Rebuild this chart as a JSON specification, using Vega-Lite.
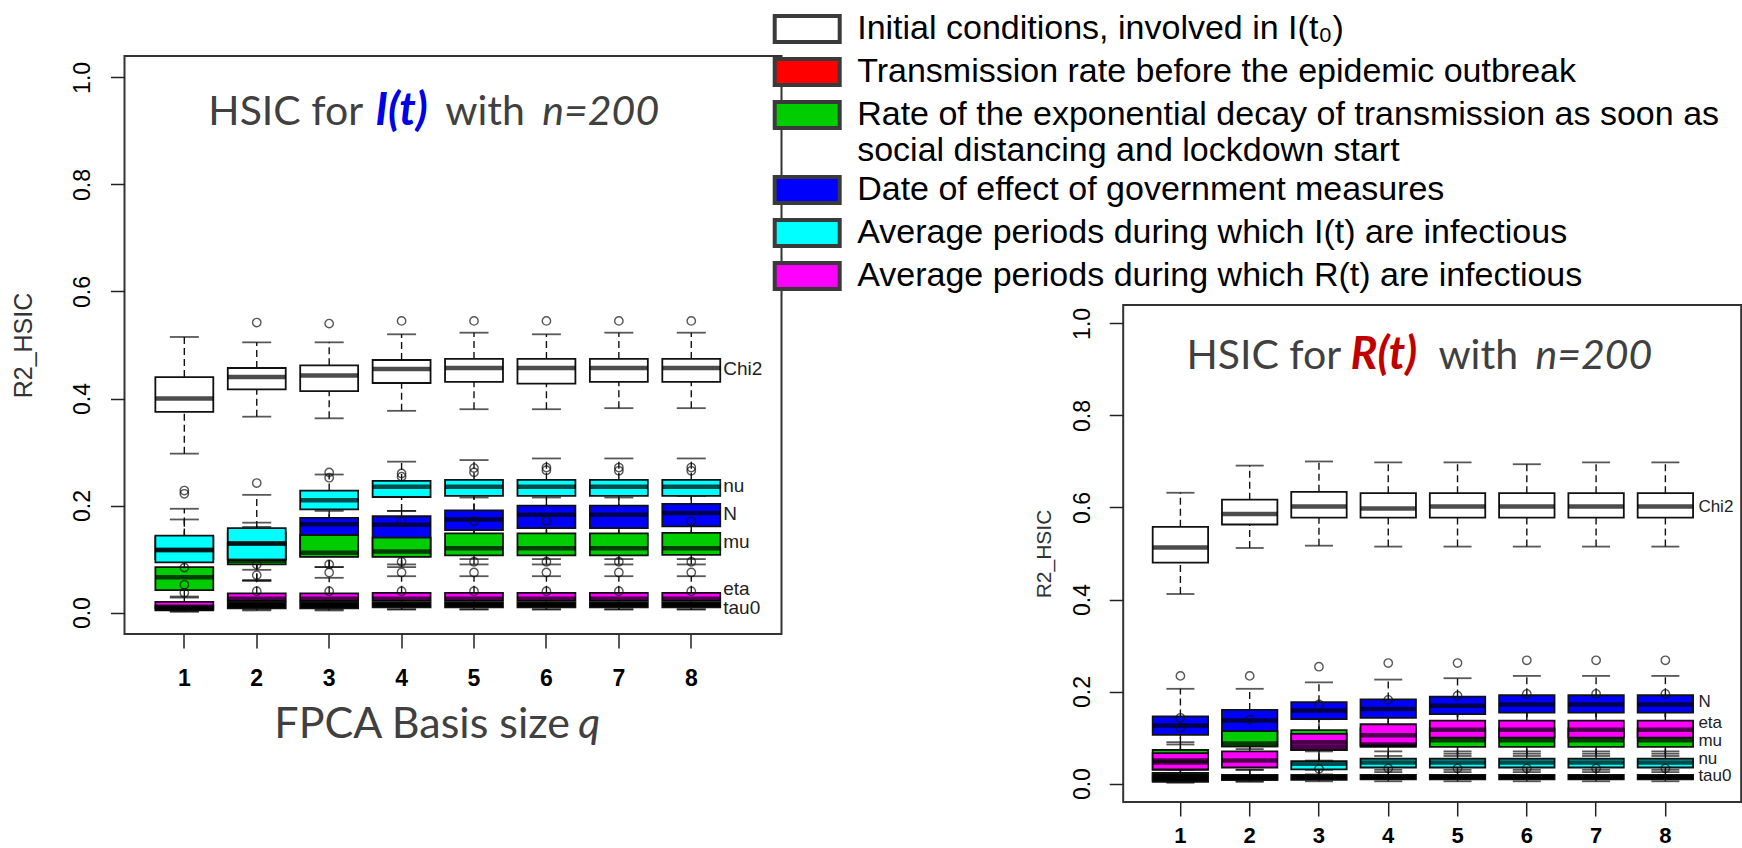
{
  "$schema": "https://vega.github.io/schema/vega-lite/v6.json",
  "background": "white",
  "padding": {"left": 9.5, "top": 7, "right": 0, "bottom": 0},
  "config": {
    "view": {"stroke": "#333333", "strokeWidth": 2},
    "axis": {"grid": false, "domain": false, "tickColor": "#222222", "tickWidth": 1.5, "labelColor": "#000000", "titleColor": "#333333", "labelFont": "Liberation Sans", "titleFont": "Liberation Sans", "titleFontWeight": "normal"}
  },
  "datasets": {
    "boxes": [
      {"p":"I","q":"1","param":"Chi2","lo":0.297,"q1":0.375,"med":0.400,"q3":0.440,"hi":0.515},
      {"p":"I","q":"1","param":"N","lo":0.072,"q1":0.100,"med":0.117,"q3":0.140,"hi":0.174},
      {"p":"I","q":"1","param":"mu","lo":0.028,"q1":0.042,"med":0.066,"q3":0.085,"hi":0.100},
      {"p":"I","q":"1","param":"nu","lo":0.070,"q1":0.094,"med":0.117,"q3":0.144,"hi":0.194},
      {"p":"I","q":"1","param":"eta","lo":0.002,"q1":0.008,"med":0.011,"q3":0.020,"hi":0.030},
      {"p":"I","q":"1","param":"tau0","lo":0.002,"q1":0.004,"med":0.008,"q3":0.012,"hi":0.020},
      {"p":"I","q":"2","param":"Chi2","lo":0.366,"q1":0.417,"med":0.440,"q3":0.457,"hi":0.505},
      {"p":"I","q":"2","param":"N","lo":0.060,"q1":0.100,"med":0.129,"q3":0.150,"hi":0.168},
      {"p":"I","q":"2","param":"mu","lo":0.060,"q1":0.090,"med":0.097,"q3":0.130,"hi":0.160},
      {"p":"I","q":"2","param":"nu","lo":0.080,"q1":0.098,"med":0.129,"q3":0.158,"hi":0.220},
      {"p":"I","q":"2","param":"eta","lo":0.006,"q1":0.022,"med":0.026,"q3":0.036,"hi":0.060},
      {"p":"I","q":"2","param":"tau0","lo":0.004,"q1":0.008,"med":0.013,"q3":0.020,"hi":0.030},
      {"p":"I","q":"3","param":"Chi2","lo":0.363,"q1":0.414,"med":0.443,"q3":0.462,"hi":0.505},
      {"p":"I","q":"3","param":"N","lo":0.085,"q1":0.105,"med":0.165,"q3":0.177,"hi":0.190},
      {"p":"I","q":"3","param":"mu","lo":0.085,"q1":0.104,"med":0.112,"q3":0.145,"hi":0.170},
      {"p":"I","q":"3","param":"nu","lo":0.150,"q1":0.193,"med":0.210,"q3":0.228,"hi":0.258},
      {"p":"I","q":"3","param":"eta","lo":0.006,"q1":0.022,"med":0.026,"q3":0.036,"hi":0.065},
      {"p":"I","q":"3","param":"tau0","lo":0.004,"q1":0.008,"med":0.013,"q3":0.020,"hi":0.030},
      {"p":"I","q":"4","param":"Chi2","lo":0.377,"q1":0.429,"med":0.455,"q3":0.472,"hi":0.520},
      {"p":"I","q":"4","param":"N","lo":0.090,"q1":0.105,"med":0.164,"q3":0.180,"hi":0.190},
      {"p":"I","q":"4","param":"mu","lo":0.085,"q1":0.104,"med":0.114,"q3":0.140,"hi":0.165},
      {"p":"I","q":"4","param":"nu","lo":0.190,"q1":0.216,"med":0.235,"q3":0.246,"hi":0.282},
      {"p":"I","q":"4","param":"eta","lo":0.006,"q1":0.022,"med":0.026,"q3":0.037,"hi":0.068},
      {"p":"I","q":"4","param":"tau0","lo":0.006,"q1":0.010,"med":0.015,"q3":0.019,"hi":0.028},
      {"p":"I","q":"5","param":"Chi2","lo":0.380,"q1":0.431,"med":0.457,"q3":0.474,"hi":0.523},
      {"p":"I","q":"5","param":"N","lo":0.100,"q1":0.154,"med":0.174,"q3":0.191,"hi":0.215},
      {"p":"I","q":"5","param":"mu","lo":0.090,"q1":0.107,"med":0.120,"q3":0.148,"hi":0.165},
      {"p":"I","q":"5","param":"nu","lo":0.190,"q1":0.218,"med":0.235,"q3":0.248,"hi":0.285},
      {"p":"I","q":"5","param":"eta","lo":0.006,"q1":0.022,"med":0.026,"q3":0.037,"hi":0.068},
      {"p":"I","q":"5","param":"tau0","lo":0.006,"q1":0.010,"med":0.015,"q3":0.019,"hi":0.028},
      {"p":"I","q":"6","param":"Chi2","lo":0.380,"q1":0.428,"med":0.457,"q3":0.474,"hi":0.520},
      {"p":"I","q":"6","param":"N","lo":0.100,"q1":0.158,"med":0.183,"q3":0.200,"hi":0.215},
      {"p":"I","q":"6","param":"mu","lo":0.090,"q1":0.107,"med":0.120,"q3":0.148,"hi":0.165},
      {"p":"I","q":"6","param":"nu","lo":0.190,"q1":0.218,"med":0.235,"q3":0.248,"hi":0.288},
      {"p":"I","q":"6","param":"eta","lo":0.006,"q1":0.022,"med":0.026,"q3":0.037,"hi":0.068},
      {"p":"I","q":"6","param":"tau0","lo":0.006,"q1":0.010,"med":0.015,"q3":0.019,"hi":0.028},
      {"p":"I","q":"7","param":"Chi2","lo":0.382,"q1":0.431,"med":0.457,"q3":0.474,"hi":0.523},
      {"p":"I","q":"7","param":"N","lo":0.100,"q1":0.158,"med":0.183,"q3":0.200,"hi":0.215},
      {"p":"I","q":"7","param":"mu","lo":0.090,"q1":0.107,"med":0.120,"q3":0.148,"hi":0.172},
      {"p":"I","q":"7","param":"nu","lo":0.190,"q1":0.218,"med":0.235,"q3":0.248,"hi":0.288},
      {"p":"I","q":"7","param":"eta","lo":0.006,"q1":0.022,"med":0.026,"q3":0.037,"hi":0.068},
      {"p":"I","q":"7","param":"tau0","lo":0.006,"q1":0.010,"med":0.015,"q3":0.019,"hi":0.028},
      {"p":"I","q":"8","param":"Chi2","lo":0.382,"q1":0.431,"med":0.457,"q3":0.474,"hi":0.523},
      {"p":"I","q":"8","param":"N","lo":0.100,"q1":0.161,"med":0.186,"q3":0.203,"hi":0.218},
      {"p":"I","q":"8","param":"mu","lo":0.090,"q1":0.108,"med":0.120,"q3":0.149,"hi":0.165},
      {"p":"I","q":"8","param":"nu","lo":0.190,"q1":0.218,"med":0.235,"q3":0.248,"hi":0.288},
      {"p":"I","q":"8","param":"eta","lo":0.006,"q1":0.022,"med":0.026,"q3":0.037,"hi":0.068},
      {"p":"I","q":"8","param":"tau0","lo":0.006,"q1":0.010,"med":0.015,"q3":0.019,"hi":0.028},

      {"p":"R","q":"1","param":"Chi2","lo":0.412,"q1":0.480,"med":0.513,"q3":0.558,"hi":0.632},
      {"p":"R","q":"1","param":"N","lo":0.085,"q1":0.106,"med":0.126,"q3":0.146,"hi":0.206},
      {"p":"R","q":"1","param":"mu","lo":0.010,"q1":0.030,"med":0.050,"q3":0.073,"hi":0.111},
      {"p":"R","q":"1","param":"nu","lo":0.003,"q1":0.006,"med":0.014,"q3":0.023,"hi":0.035},
      {"p":"R","q":"1","param":"eta","lo":0.010,"q1":0.031,"med":0.046,"q3":0.066,"hi":0.090},
      {"p":"R","q":"1","param":"tau0","lo":0.002,"q1":0.004,"med":0.010,"q3":0.022,"hi":0.030},
      {"p":"R","q":"2","param":"Chi2","lo":0.512,"q1":0.563,"med":0.586,"q3":0.617,"hi":0.691},
      {"p":"R","q":"2","param":"N","lo":0.075,"q1":0.081,"med":0.137,"q3":0.160,"hi":0.206},
      {"p":"R","q":"2","param":"mu","lo":0.050,"q1":0.081,"med":0.087,"q3":0.114,"hi":0.130},
      {"p":"R","q":"2","param":"nu","lo":0.004,"q1":0.008,"med":0.012,"q3":0.019,"hi":0.030},
      {"p":"R","q":"2","param":"eta","lo":0.015,"q1":0.035,"med":0.050,"q3":0.070,"hi":0.095},
      {"p":"R","q":"2","param":"tau0","lo":0.005,"q1":0.008,"med":0.013,"q3":0.019,"hi":0.030},
      {"p":"R","q":"3","param":"Chi2","lo":0.517,"q1":0.578,"med":0.602,"q3":0.634,"hi":0.700},
      {"p":"R","q":"3","param":"N","lo":0.110,"q1":0.140,"med":0.159,"q3":0.177,"hi":0.220},
      {"p":"R","q":"3","param":"mu","lo":0.050,"q1":0.073,"med":0.080,"q3":0.116,"hi":0.155},
      {"p":"R","q":"3","param":"nu","lo":0.020,"q1":0.031,"med":0.043,"q3":0.049,"hi":0.070},
      {"p":"R","q":"3","param":"eta","lo":0.040,"q1":0.073,"med":0.090,"q3":0.108,"hi":0.140},
      {"p":"R","q":"3","param":"tau0","lo":0.005,"q1":0.008,"med":0.013,"q3":0.019,"hi":0.030},
      {"p":"R","q":"4","param":"Chi2","lo":0.515,"q1":0.578,"med":0.598,"q3":0.631,"hi":0.698},
      {"p":"R","q":"4","param":"N","lo":0.110,"q1":0.143,"med":0.162,"q3":0.183,"hi":0.226},
      {"p":"R","q":"4","param":"mu","lo":0.060,"q1":0.080,"med":0.085,"q3":0.120,"hi":0.160},
      {"p":"R","q":"4","param":"nu","lo":0.025,"q1":0.035,"med":0.046,"q3":0.054,"hi":0.070},
      {"p":"R","q":"4","param":"eta","lo":0.050,"q1":0.083,"med":0.105,"q3":0.129,"hi":0.160},
      {"p":"R","q":"4","param":"tau0","lo":0.005,"q1":0.009,"med":0.014,"q3":0.019,"hi":0.030},
      {"p":"R","q":"5","param":"Chi2","lo":0.515,"q1":0.578,"med":0.602,"q3":0.631,"hi":0.698},
      {"p":"R","q":"5","param":"N","lo":0.120,"q1":0.151,"med":0.169,"q3":0.189,"hi":0.229},
      {"p":"R","q":"5","param":"mu","lo":0.065,"q1":0.080,"med":0.094,"q3":0.120,"hi":0.174},
      {"p":"R","q":"5","param":"nu","lo":0.025,"q1":0.035,"med":0.046,"q3":0.054,"hi":0.070},
      {"p":"R","q":"5","param":"eta","lo":0.060,"q1":0.100,"med":0.117,"q3":0.137,"hi":0.170},
      {"p":"R","q":"5","param":"tau0","lo":0.005,"q1":0.009,"med":0.014,"q3":0.019,"hi":0.030},
      {"p":"R","q":"6","param":"Chi2","lo":0.515,"q1":0.578,"med":0.602,"q3":0.631,"hi":0.694},
      {"p":"R","q":"6","param":"N","lo":0.120,"q1":0.154,"med":0.172,"q3":0.192,"hi":0.234},
      {"p":"R","q":"6","param":"mu","lo":0.065,"q1":0.080,"med":0.094,"q3":0.120,"hi":0.175},
      {"p":"R","q":"6","param":"nu","lo":0.025,"q1":0.035,"med":0.046,"q3":0.054,"hi":0.070},
      {"p":"R","q":"6","param":"eta","lo":0.060,"q1":0.100,"med":0.117,"q3":0.137,"hi":0.170},
      {"p":"R","q":"6","param":"tau0","lo":0.005,"q1":0.009,"med":0.014,"q3":0.019,"hi":0.030},
      {"p":"R","q":"7","param":"Chi2","lo":0.515,"q1":0.578,"med":0.602,"q3":0.631,"hi":0.698},
      {"p":"R","q":"7","param":"N","lo":0.120,"q1":0.154,"med":0.172,"q3":0.192,"hi":0.234},
      {"p":"R","q":"7","param":"mu","lo":0.065,"q1":0.080,"med":0.094,"q3":0.120,"hi":0.175},
      {"p":"R","q":"7","param":"nu","lo":0.025,"q1":0.035,"med":0.046,"q3":0.054,"hi":0.070},
      {"p":"R","q":"7","param":"eta","lo":0.060,"q1":0.100,"med":0.117,"q3":0.137,"hi":0.170},
      {"p":"R","q":"7","param":"tau0","lo":0.005,"q1":0.009,"med":0.014,"q3":0.019,"hi":0.030},
      {"p":"R","q":"8","param":"Chi2","lo":0.515,"q1":0.578,"med":0.602,"q3":0.631,"hi":0.698},
      {"p":"R","q":"8","param":"N","lo":0.120,"q1":0.154,"med":0.172,"q3":0.192,"hi":0.234},
      {"p":"R","q":"8","param":"mu","lo":0.065,"q1":0.080,"med":0.094,"q3":0.120,"hi":0.175},
      {"p":"R","q":"8","param":"nu","lo":0.025,"q1":0.035,"med":0.046,"q3":0.054,"hi":0.070},
      {"p":"R","q":"8","param":"eta","lo":0.060,"q1":0.100,"med":0.117,"q3":0.137,"hi":0.170},
      {"p":"R","q":"8","param":"tau0","lo":0.005,"q1":0.009,"med":0.014,"q3":0.019,"hi":0.030}
    ],
    "outliers": [
      {"p":"I","q":"2","v":0.542},{"p":"I","q":"3","v":0.540},{"p":"I","q":"4","v":0.545},{"p":"I","q":"5","v":0.545},
      {"p":"I","q":"6","v":0.545},{"p":"I","q":"7","v":0.545},{"p":"I","q":"8","v":0.545},
      {"p":"I","q":"1","v":0.222},{"p":"I","q":"1","v":0.228},{"p":"I","q":"2","v":0.242},
      {"p":"I","q":"3","v":0.262},{"p":"I","q":"3","v":0.252},
      {"p":"I","q":"4","v":0.260},{"p":"I","q":"4","v":0.254},{"p":"I","q":"5","v":0.270},{"p":"I","q":"5","v":0.262},
      {"p":"I","q":"6","v":0.271},{"p":"I","q":"6","v":0.266},{"p":"I","q":"7","v":0.271},{"p":"I","q":"7","v":0.265},
      {"p":"I","q":"8","v":0.271},{"p":"I","q":"8","v":0.265},
      {"p":"I","q":"4","v":0.171},{"p":"I","q":"5","v":0.171},{"p":"I","q":"6","v":0.171},{"p":"I","q":"8","v":0.171},
      {"p":"I","q":"1","v":0.037},{"p":"I","q":"1","v":0.052},{"p":"I","q":"1","v":0.084},
      {"p":"I","q":"2","v":0.070},{"p":"I","q":"2","v":0.090},{"p":"I","q":"2","v":0.040},
      {"p":"I","q":"3","v":0.075},{"p":"I","q":"3","v":0.090},{"p":"I","q":"3","v":0.040},
      {"p":"I","q":"4","v":0.075},{"p":"I","q":"4","v":0.095},{"p":"I","q":"4","v":0.040},
      {"p":"I","q":"5","v":0.075},{"p":"I","q":"5","v":0.095},{"p":"I","q":"5","v":0.040},
      {"p":"I","q":"6","v":0.075},{"p":"I","q":"6","v":0.095},{"p":"I","q":"6","v":0.040},
      {"p":"I","q":"7","v":0.075},{"p":"I","q":"7","v":0.095},{"p":"I","q":"7","v":0.040},
      {"p":"I","q":"8","v":0.075},{"p":"I","q":"8","v":0.095},{"p":"I","q":"8","v":0.040},
      {"p":"R","q":"1","v":0.234},{"p":"R","q":"2","v":0.234},{"p":"R","q":"3","v":0.254},{"p":"R","q":"4","v":0.262},
      {"p":"R","q":"5","v":0.262},{"p":"R","q":"6","v":0.268},{"p":"R","q":"7","v":0.268},{"p":"R","q":"8","v":0.268},
      {"p":"R","q":"1","v":0.121},{"p":"R","q":"1","v":0.143},{"p":"R","q":"2","v":0.139},{"p":"R","q":"3","v":0.172},
      {"p":"R","q":"4","v":0.182},{"p":"R","q":"5","v":0.191},{"p":"R","q":"6","v":0.195},{"p":"R","q":"7","v":0.195},{"p":"R","q":"8","v":0.195},
      {"p":"R","q":"3","v":0.032},{"p":"R","q":"4","v":0.033},{"p":"R","q":"5","v":0.033},{"p":"R","q":"6","v":0.033},
      {"p":"R","q":"7","v":0.033},{"p":"R","q":"8","v":0.033}
    ],
    "labels": [
      {"p":"I","param":"Chi2","y":0.455},{"p":"I","param":"nu","y":0.237},{"p":"I","param":"N","y":0.185},
      {"p":"I","param":"mu","y":0.131},{"p":"I","param":"eta","y":0.045},{"p":"I","param":"tau0","y":0.009},
      {"p":"R","param":"Chi2","y":0.600},{"p":"R","param":"N","y":0.178},{"p":"R","param":"eta","y":0.131},
      {"p":"R","param":"mu","y":0.093},{"p":"R","param":"nu","y":0.054},{"p":"R","param":"tau0","y":0.017}
    ],
    "titles": [
      {"p":"I","part":"a","t":"HSIC for"},{"p":"I","part":"b","t":"I(t)"},{"p":"I","part":"c","t":"with"},{"p":"I","part":"d","t":"n=200"},
      {"p":"I","part":"x1","t":"FPCA Basis size"},{"p":"I","part":"x2","t":"q"},
      {"p":"R","part":"a","t":"HSIC for"},{"p":"R","part":"b","t":"R(t)"},{"p":"R","part":"c","t":"with"},{"p":"R","part":"d","t":"n=200"}
    ]
  },
  "bounds": "flush",
  "spacing": 341.7,
  "resolve": {"scale": {"color": "independent", "x": "independent", "y": "independent"}, "legend": {"color": "independent"}},
  "hconcat": [
    {
      "width": 657,
      "height": 578,
      "encoding": {
        "x": {"field": "q", "type": "ordinal",
          "scale": {"domain": ["1","2","3","4","5","6","7","8"], "paddingInner": 0.2, "paddingOuter": 0.636, "align": 0.335},
          "axis": {"title": null, "labelAngle": 0, "labelFontWeight": "bold", "labelFontSize": 23, "labelPadding": 19, "tickSize": 14}}
      },
      "layer": [
        {"data": {"name": "boxes"}, "transform": [{"filter": "datum.p == 'I'"}],
         "mark": {"type": "rule", "strokeDash": [7, 4], "strokeWidth": 1.4, "color": "#111111"},
         "encoding": {"y": {"field": "lo", "type": "quantitative", "title": "R2_HSIC", "scale": {"domain": [-0.04, 1.04], "nice": false, "zero": false},
                            "axis": {"title": "R2_HSIC", "values": [0, 0.2, 0.4, 0.6, 0.8, 1.0], "format": ".1f", "labelAngle": 270, "labelAlign": "center", "labelBaseline": "middle",
                                     "labelFontSize": 23, "labelPadding": 28, "tickSize": 14, "titleFontSize": 25, "titlePadding": 35}},
                      "y2": {"field": "q1"}}},
        {"data": {"name": "boxes"}, "transform": [{"filter": "datum.p == 'I'"}],
         "mark": {"type": "rule", "strokeDash": [7, 4], "strokeWidth": 1.4, "color": "#111111"},
         "encoding": {"y": {"field": "q3", "type": "quantitative", "title": "R2_HSIC", "scale": {"domain": [-0.04, 1.04], "nice": false, "zero": false}}, "y2": {"field": "hi"}}},
        {"data": {"name": "boxes"}, "transform": [{"filter": "datum.p == 'I'"}],
         "mark": {"type": "tick", "size": 29, "thickness": 1.8, "color": "#111111"},
         "encoding": {"y": {"field": "lo", "type": "quantitative", "title": "R2_HSIC", "scale": {"domain": [-0.04, 1.04], "nice": false, "zero": false}}}},
        {"data": {"name": "boxes"}, "transform": [{"filter": "datum.p == 'I'"}],
         "mark": {"type": "tick", "size": 29, "thickness": 1.8, "color": "#111111"},
         "encoding": {"y": {"field": "hi", "type": "quantitative", "title": "R2_HSIC", "scale": {"domain": [-0.04, 1.04], "nice": false, "zero": false}}}},
        {"data": {"name": "boxes"}, "transform": [{"filter": "datum.p == 'I' && datum.param != 'tau0'"}],
         "mark": {"type": "bar", "stroke": "#111111", "strokeWidth": 1.8},
         "encoding": {"y": {"field": "q1", "type": "quantitative", "title": "R2_HSIC", "scale": {"domain": [-0.04, 1.04], "nice": false, "zero": false}},
                      "y2": {"field": "q3"},
                      "color": {"field": "param", "type": "nominal",
                                "scale": {"domain": ["Chi2", "tau0", "mu", "N", "nu", "eta"], "range": ["#ffffff", "#ff0000", "#00cd00", "#0000ff", "#00ffff", "#ff00ff"]},
                                "legend": null}}},
        {"data": {"name": "boxes"}, "transform": [{"filter": "datum.p == 'I' && datum.param == 'tau0'"}],
         "mark": {"type": "bar", "color": "#000000", "stroke": "#111111", "strokeWidth": 1.8},
         "encoding": {"y": {"field": "q1", "type": "quantitative", "title": "R2_HSIC", "scale": {"domain": [-0.04, 1.04], "nice": false, "zero": false}},
                      "y2": {"field": "q3"}}},
        {"data": {"name": "boxes"}, "transform": [{"filter": "datum.p == 'I'"}],
         "mark": {"type": "tick", "size": 58, "thickness": 4.5, "color": "#000000"},
         "encoding": {"y": {"field": "med", "type": "quantitative", "title": "R2_HSIC", "scale": {"domain": [-0.04, 1.04], "nice": false, "zero": false}}}},
        {"data": {"name": "outliers"}, "transform": [{"filter": "datum.p == 'I'"}],
         "mark": {"type": "point", "shape": "circle", "filled": false, "size": 70, "strokeWidth": 1.4, "color": "#111111"},
         "encoding": {"y": {"field": "v", "type": "quantitative", "title": "R2_HSIC", "scale": {"domain": [-0.04, 1.04], "nice": false, "zero": false}}}},
        {"data": {"name": "labels"}, "transform": [{"filter": "datum.p == 'I'"}],
         "mark": {"type": "text", "align": "left", "baseline": "middle", "dx": 32, "font": "Liberation Sans", "fontSize": 19, "color": "#222222"},
         "encoding": {"x": {"datum": "8"}, "y": {"field": "y", "type": "quantitative", "title": "R2_HSIC", "scale": {"domain": [-0.04, 1.04], "nice": false, "zero": false}},
                      "text": {"field": "param"}}},
        {"data": {"name": "titles"}, "transform": [{"filter": "datum.p == 'I' && datum.part == 'a'"}],
         "mark": {"type": "text", "align": "left", "baseline": "alphabetic", "dx": 24, "font": "Lato", "fontSize": 41, "color": "#404040"},
         "encoding": {"x": {"datum": "1"}, "y": {"datum": 0.9104, "type": "quantitative", "title": "R2_HSIC", "scale": {"domain": [-0.04, 1.04], "nice": false, "zero": false}}, "text": {"field": "t"}}},
        {"data": {"name": "titles"}, "transform": [{"filter": "datum.p == 'I' && datum.part == 'b'"}],
         "mark": {"type": "text", "align": "left", "baseline": "alphabetic", "dx": 191, "font": "Lato", "fontSize": 45, "fontWeight": "bold", "fontStyle": "italic", "color": "#0000e6"},
         "encoding": {"x": {"datum": "1"}, "y": {"datum": 0.9104, "type": "quantitative", "title": "R2_HSIC", "scale": {"domain": [-0.04, 1.04], "nice": false, "zero": false}}, "text": {"field": "t"}}},
        {"data": {"name": "titles"}, "transform": [{"filter": "datum.p == 'I' && datum.part == 'c'"}],
         "mark": {"type": "text", "align": "left", "baseline": "alphabetic", "dx": 261, "font": "Lato", "fontSize": 41, "color": "#404040"},
         "encoding": {"x": {"datum": "1"}, "y": {"datum": 0.9104, "type": "quantitative", "title": "R2_HSIC", "scale": {"domain": [-0.04, 1.04], "nice": false, "zero": false}}, "text": {"field": "t"}}},
        {"data": {"name": "titles"}, "transform": [{"filter": "datum.p == 'I' && datum.part == 'd'"}],
         "mark": {"type": "text", "align": "left", "baseline": "alphabetic", "dx": 358, "font": "Lato", "fontSize": 41, "fontStyle": "italic", "color": "#404040"},
         "encoding": {"x": {"datum": "1"}, "y": {"datum": 0.9104, "type": "quantitative", "title": "R2_HSIC", "scale": {"domain": [-0.04, 1.04], "nice": false, "zero": false}}, "text": {"field": "t"}}},
        {"data": {"name": "titles"}, "transform": [{"filter": "datum.p == 'I' && datum.part == 'x1'"}],
         "mark": {"type": "text", "align": "left", "baseline": "alphabetic", "dx": 90, "font": "Lato", "fontSize": 43, "color": "#404040"},
         "encoding": {"x": {"datum": "1"}, "y": {"datum": -0.234, "type": "quantitative", "title": "R2_HSIC", "scale": {"domain": [-0.04, 1.04], "nice": false, "zero": false}}, "text": {"field": "t"}}},
        {"data": {"name": "titles"}, "transform": [{"filter": "datum.p == 'I' && datum.part == 'x2'"}],
         "mark": {"type": "text", "align": "left", "baseline": "alphabetic", "dx": 394, "font": "Lato", "fontSize": 43, "fontStyle": "italic", "color": "#404040"},
         "encoding": {"x": {"datum": "1"}, "y": {"datum": -0.234, "type": "quantitative", "title": "R2_HSIC", "scale": {"domain": [-0.04, 1.04], "nice": false, "zero": false}}, "text": {"field": "t"}}}
      ]
    },
    {
      "bounds": "flush",
      "spacing": 0,
      "resolve": {"scale": {"color": "independent", "x": "independent", "y": "independent"}, "legend": {"color": "independent"}},
      "vconcat": [
        {"width": 618, "height": 249, "data": {"values": []}, "mark": "point", "view": {"stroke": null}},
        {
          "width": 618,
          "height": 497,
          "encoding": {
            "x": {"field": "q", "type": "ordinal",
              "scale": {"domain": ["1","2","3","4","5","6","7","8"], "paddingInner": 0.2, "paddingOuter": 0.56, "align": 0.38},
              "axis": {"title": null, "labelAngle": 0, "labelFontWeight": "bold", "labelFontSize": 22, "labelPadding": 9, "tickSize": 14}}
          },
          "layer": [
            {"data": {"name": "boxes"}, "transform": [{"filter": "datum.p == 'R'"}],
             "mark": {"type": "rule", "strokeDash": [7, 4], "strokeWidth": 1.4, "color": "#111111"},
             "encoding": {"y": {"field": "lo", "type": "quantitative", "title": "R2_HSIC", "scale": {"domain": [-0.04, 1.04], "nice": false, "zero": false},
                                "axis": {"title": "R2_HSIC", "values": [0, 0.2, 0.4, 0.6, 0.8, 1.0], "format": ".1f", "labelAngle": 270, "labelAlign": "center", "labelBaseline": "middle",
                                         "labelFontSize": 23, "labelPadding": 27, "tickSize": 14, "titleFontSize": 21, "titlePadding": 17}},
                          "y2": {"field": "q1"}}},
            {"data": {"name": "boxes"}, "transform": [{"filter": "datum.p == 'R'"}],
             "mark": {"type": "rule", "strokeDash": [7, 4], "strokeWidth": 1.4, "color": "#111111"},
             "encoding": {"y": {"field": "q3", "type": "quantitative", "title": "R2_HSIC", "scale": {"domain": [-0.04, 1.04], "nice": false, "zero": false}}, "y2": {"field": "hi"}}},
            {"data": {"name": "boxes"}, "transform": [{"filter": "datum.p == 'R'"}],
             "mark": {"type": "tick", "size": 28, "thickness": 1.8, "color": "#111111"},
             "encoding": {"y": {"field": "lo", "type": "quantitative", "title": "R2_HSIC", "scale": {"domain": [-0.04, 1.04], "nice": false, "zero": false}}}},
            {"data": {"name": "boxes"}, "transform": [{"filter": "datum.p == 'R'"}],
             "mark": {"type": "tick", "size": 28, "thickness": 1.8, "color": "#111111"},
             "encoding": {"y": {"field": "hi", "type": "quantitative", "title": "R2_HSIC", "scale": {"domain": [-0.04, 1.04], "nice": false, "zero": false}}}},
            {"data": {"name": "boxes"}, "transform": [{"filter": "datum.p == 'R' && datum.param != 'tau0'"}],
             "mark": {"type": "bar", "stroke": "#111111", "strokeWidth": 1.8},
             "encoding": {"y": {"field": "q1", "type": "quantitative", "title": "R2_HSIC", "scale": {"domain": [-0.04, 1.04], "nice": false, "zero": false}},
                          "y2": {"field": "q3"},
                          "color": {"field": "param", "type": "nominal",
                                    "scale": {"domain": ["Chi2", "tau0", "mu", "N", "nu", "eta"], "range": ["#ffffff", "#ff0000", "#00cd00", "#0000ff", "#00ffff", "#ff00ff"]},
                                    "legend": {"title": null, "orient": "none", "legendX": -337, "legendY": -297, "padding": 4, "fillColor": "#ffffff",
                                               "symbolType": "M-2.5,-1H2.5V1H-2.5Z", "symbolSize": 676, "symbolStrokeColor": "#3a3a3a", "symbolStrokeWidth": 4,
                                               "labelFont": "Liberation Sans", "labelFontSize": 34, "labelColor": "#000000", "labelOffset": 33, "labelLimit": 2000, "rowPadding": 1,
                                               "labelExpr": "datum.value == 'Chi2' ? 'Initial conditions, involved in I(t₀)' : datum.value == 'tau0' ? 'Transmission rate before the epidemic outbreak' : datum.value == 'mu' ? ['Rate of the exponential decay of transmission as soon as', 'social distancing and lockdown start'] : datum.value == 'N' ? 'Date of effect of government measures' : datum.value == 'nu' ? 'Average periods during which I(t) are infectious' : 'Average periods during which R(t) are infectious'"}}}},
            {"data": {"name": "boxes"}, "transform": [{"filter": "datum.p == 'R' && datum.param == 'tau0'"}],
             "mark": {"type": "bar", "color": "#000000", "stroke": "#111111", "strokeWidth": 1.8},
             "encoding": {"y": {"field": "q1", "type": "quantitative", "title": "R2_HSIC", "scale": {"domain": [-0.04, 1.04], "nice": false, "zero": false}},
                          "y2": {"field": "q3"}}},
            {"data": {"name": "boxes"}, "transform": [{"filter": "datum.p == 'R'"}],
             "mark": {"type": "tick", "size": 55, "thickness": 4.5, "color": "#000000"},
             "encoding": {"y": {"field": "med", "type": "quantitative", "title": "R2_HSIC", "scale": {"domain": [-0.04, 1.04], "nice": false, "zero": false}}}},
            {"data": {"name": "outliers"}, "transform": [{"filter": "datum.p == 'R'"}],
             "mark": {"type": "point", "shape": "circle", "filled": false, "size": 70, "strokeWidth": 1.4, "color": "#111111"},
             "encoding": {"y": {"field": "v", "type": "quantitative", "title": "R2_HSIC", "scale": {"domain": [-0.04, 1.04], "nice": false, "zero": false}}}},
            {"data": {"name": "labels"}, "transform": [{"filter": "datum.p == 'R'"}],
             "mark": {"type": "text", "align": "left", "baseline": "middle", "dx": 33, "font": "Liberation Sans", "fontSize": 17, "color": "#222222"},
             "encoding": {"x": {"datum": "8"}, "y": {"field": "y", "type": "quantitative", "title": "R2_HSIC", "scale": {"domain": [-0.04, 1.04], "nice": false, "zero": false}},
                          "text": {"field": "param"}}},
            {"data": {"name": "titles"}, "transform": [{"filter": "datum.p == 'R' && datum.part == 'a'"}],
             "mark": {"type": "text", "align": "left", "baseline": "alphabetic", "dx": 6, "font": "Lato", "fontSize": 41, "color": "#404040"},
             "encoding": {"x": {"datum": "1"}, "y": {"datum": 0.9007, "type": "quantitative", "title": "R2_HSIC", "scale": {"domain": [-0.04, 1.04], "nice": false, "zero": false}}, "text": {"field": "t"}}},
            {"data": {"name": "titles"}, "transform": [{"filter": "datum.p == 'R' && datum.part == 'b'"}],
             "mark": {"type": "text", "align": "left", "baseline": "alphabetic", "dx": 170, "font": "Lato", "fontSize": 45, "fontWeight": "bold", "fontStyle": "italic", "color": "#c00000"},
             "encoding": {"x": {"datum": "1"}, "y": {"datum": 0.9007, "type": "quantitative", "title": "R2_HSIC", "scale": {"domain": [-0.04, 1.04], "nice": false, "zero": false}}, "text": {"field": "t"}}},
            {"data": {"name": "titles"}, "transform": [{"filter": "datum.p == 'R' && datum.part == 'c'"}],
             "mark": {"type": "text", "align": "left", "baseline": "alphabetic", "dx": 258, "font": "Lato", "fontSize": 41, "color": "#404040"},
             "encoding": {"x": {"datum": "1"}, "y": {"datum": 0.9007, "type": "quantitative", "title": "R2_HSIC", "scale": {"domain": [-0.04, 1.04], "nice": false, "zero": false}}, "text": {"field": "t"}}},
            {"data": {"name": "titles"}, "transform": [{"filter": "datum.p == 'R' && datum.part == 'd'"}],
             "mark": {"type": "text", "align": "left", "baseline": "alphabetic", "dx": 355, "font": "Lato", "fontSize": 41, "fontStyle": "italic", "color": "#404040"},
             "encoding": {"x": {"datum": "1"}, "y": {"datum": 0.9007, "type": "quantitative", "title": "R2_HSIC", "scale": {"domain": [-0.04, 1.04], "nice": false, "zero": false}}, "text": {"field": "t"}}}
          ]
        }
      ]
    }
  ]
}
